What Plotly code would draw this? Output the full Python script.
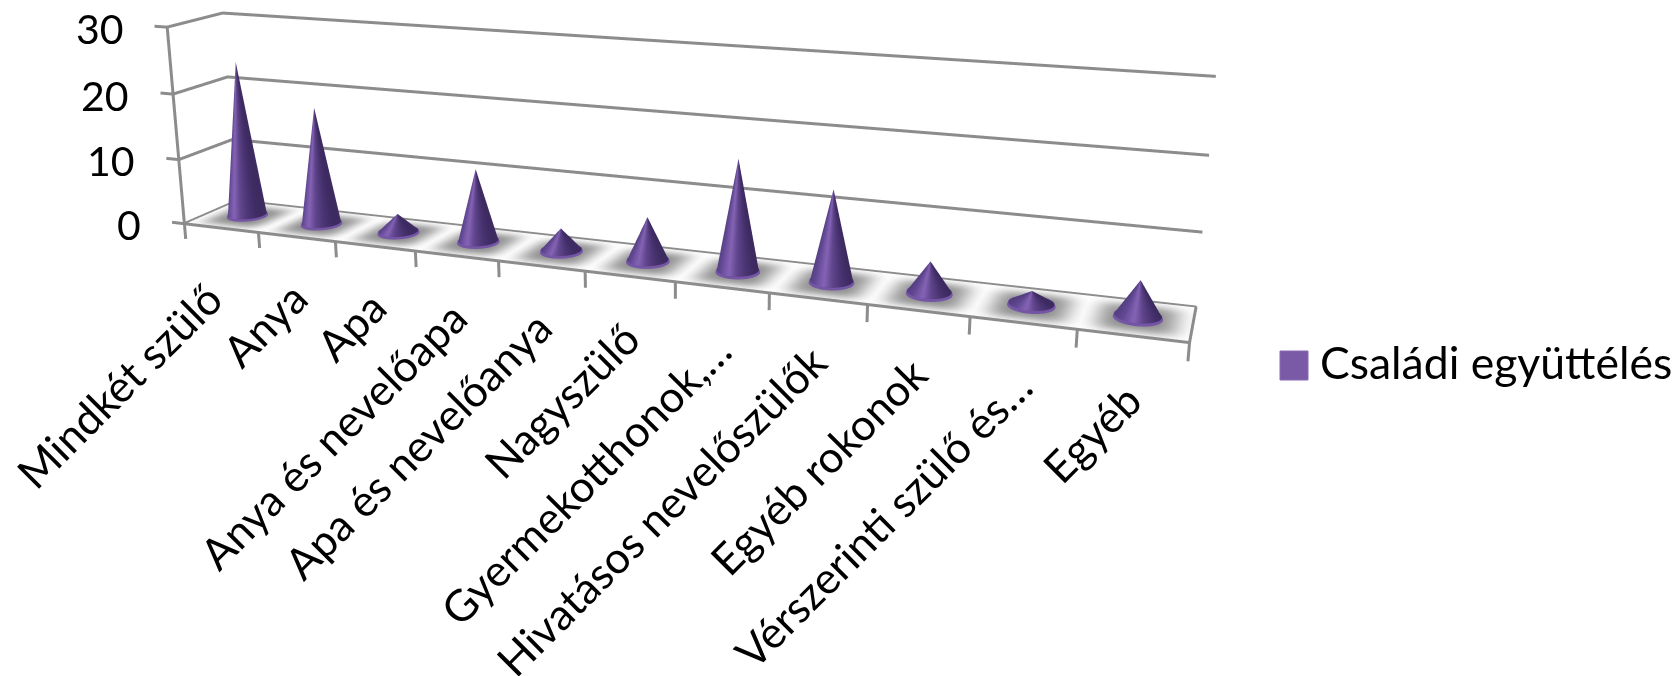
import numpy as np
import plotly.graph_objects as go

categories = ["Mindkét szülő", "Anya", "Apa", "Anya és nevelőapa", "Apa és nevelőanya", "Nagyszülő",
              "Gyermekotthonok,…", "Hivatásos nevelőszülők", "Egyéb rokonok", "Vérszerinti szülő és…", "Egyéb"]
values = [24, 18, 3, 11, 3.5, 6.5, 16, 13, 4.5, 2, 5]
z_ticks = [0, 10, 20, 30]
series_name = "Családi együttélés"

W, H = 1675, 676
F = H/2/np.tan(np.pi/8)

# Perspective of the chart box: (category/11, depth, value/30, 1) -> screen, in thousands of pixels
PM = np.array([[0.761971, 0.064702, -0.022608, 0.184393],
               [0.048836, -0.012996, -0.197488, 0.223731],
               [-0.204421, 0.049770, -0.032350, 1.000000]])

def pix(x, y, z):
    x, y, z = np.asarray(x, float), np.asarray(y, float), np.asarray(z, float)
    w = PM[2, 0]*x/11 + PM[2, 1]*y + PM[2, 2]*z/30 + PM[2, 3]
    u = (PM[0, 0]*x/11 + PM[0, 1]*y + PM[0, 2]*z/30 + PM[0, 3])/w*1000
    v = (PM[1, 0]*x/11 + PM[1, 1]*y + PM[1, 2]*z/30 + PM[1, 3])/w*1000
    return u, v, w

WM = pix(5.5, .5, 15)[2]

def place(x, y, z):
    u, v, w = pix(x, y, z)
    D = 2*w/WM
    return (u-W/2)*D/F, D-2, (H/2-v)*D/F

FLAT = dict(ambient=1, diffuse=0, specular=0, fresnel=0, roughness=1)
fig = go.Figure()

def grid_mesh(X, Y, Z, C, scale, cmin, cmax):
    nr, nc = X.shape
    idx = np.arange(nr*nc).reshape(nr, nc)
    a = idx[:-1, :-1].ravel(); b = idx[:-1, 1:].ravel(); c = idx[1:, 1:].ravel(); d = idx[1:, :-1].ravel()
    fig.add_trace(go.Mesh3d(x=X.ravel(), y=Y.ravel(), z=Z.ravel(), i=np.r_[a, a], j=np.r_[b, c], k=np.r_[c, d],
                            intensity=C.ravel(), cmin=cmin, cmax=cmax, colorscale=scale, showscale=False,
                            hoverinfo="skip", lighting=FLAT, flatshading=False))

# floor with the soft shadow under each cone
fx = np.linspace(0, 11, 221); fy = np.linspace(0, 1, 21)
FX, FY = np.meshgrid(fx, fy)
shade = np.zeros_like(FX)
for i, _ in enumerate(categories):
    shade = np.maximum(shade, np.exp(-((FX-i-0.5)/0.38)**4)*np.exp(-((FY-0.5)/0.40)**4))
X, Y, Z = place(FX, FY, np.full_like(FX, -0.05))
grid_mesh(X, Y, Z, shade, [[0, "#ffffff"], [1, "#8e8e8e"]], 0, 1)

# cones
shade_scale = [[0, "#543e80"], [0.2, "#634994"], [0.45, "#8563b5"], [0.65, "#60458d"], [0.85, "#4a3472"], [1, "#3c2a60"]]
RX, RY = 0.215, 0.22
th = np.linspace(0, 2*np.pi, 73)
prof = np.array([0, 0.012, 0.04, 0.2, 0.4, 0.6, 0.8, 1.0])
for i, v in enumerate(values):
    T, P = np.meshgrid(th, prof)
    heights = np.where(P == 0, 0.02, np.where(P <= 0.04, 0.35, (P-0.04)/0.96*(v-0.35)+0.35))
    rr = np.where(P == 0, 1.07, np.where(P == 0.012, 1.03, np.where(P == 0.04, 1.0, 1-(P-0.04)/0.96)))
    C = np.cos(T)
    col = np.where(P <= 0.012, -0.35, C)
    X, Y, Z = place(i+0.5+RX*rr*C, 0.5+RY*rr*np.sin(T), heights)
    grid_mesh(X, Y, Z, col, shade_scale, -1, 1)

def line(xs, ys, zs):
    X, Y, Z = place(xs, ys, zs)
    fig.add_trace(go.Scatter3d(x=X, y=Y, z=Z, mode="lines", line=dict(color="#8c8c8c", width=6),
                               hoverinfo="skip", showlegend=False))

for z in z_ticks:
    line([-0.17, 0, 0, 11], [0, 0, 1, 1], [z]*4)
line([0, 0], [0, 0], [0, 30])
line([0, 11, 11, 0, 0], [0, 0, 1, 1, 0], [0]*5)
for i in range(len(categories)+1):
    line([i, i], [0, 0], [0, -2.4])

anns = []
for z in z_ticks:
    X, Y, Z = place(-0.17, 0, z)
    anns.append(dict(x=float(X), y=float(Y), z=float(Z), text=str(z), showarrow=False, xanchor="right", yanchor="middle",
                     xshift=-29, yshift=-2, font=dict(family="Lato", size=41, color="#000")))
for i, c in enumerate(categories):
    X, Y, Z = place(i+0.5, 0, -2.4)
    anns.append(dict(x=float(X), y=float(Y), z=float(Z), text=c, showarrow=False, textangle=-45, xanchor="right", yanchor="top",
                     xshift=12 if i == 0 else 22, yshift=-26 if i == 0 else -16,
                     font=dict(family="Lato", size=43.5, color="#000")))

ax_off = dict(visible=False, showgrid=False, showbackground=False, zeroline=False, showspikes=False)
fig.update_layout(width=W, height=H, margin=dict(l=0, r=0, t=0, b=0), paper_bgcolor="white", showlegend=False,
    scene=dict(domain=dict(x=[0, 1], y=[0, 1]), aspectmode="manual", aspectratio=dict(x=6, y=2, z=3),
               xaxis=dict(range=[-3, 3], **ax_off), yaxis=dict(range=[-1, 1], **ax_off), zaxis=dict(range=[-1.5, 1.5], **ax_off),
               camera=dict(eye=dict(x=0, y=-2, z=0), center=dict(x=0, y=0, z=0), up=dict(x=0, y=0, z=1),
                           projection=dict(type="perspective")),
               annotations=anns),
    shapes=[dict(type="rect", xref="paper", yref="paper", x0=1280/W, x1=1308/W, y0=1-380/H, y1=1-351/H,
                 fillcolor="#7a5aa6", line=dict(color="#8a6ab6", width=1))],
    annotations=[dict(xref="paper", yref="paper", x=1318/W, y=1-361/H, xanchor="left", yanchor="middle", text=series_name,
                      showarrow=False, font=dict(family="Lato", size=44.5, color="#000"))])
fig.write_html("out.html", config={"displayModeBar": False}, post_script="document.body.style.margin='0';")
